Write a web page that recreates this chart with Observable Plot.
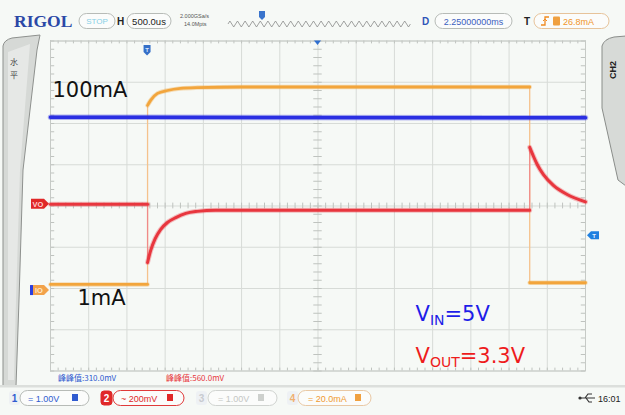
<!DOCTYPE html>
<html><head><meta charset="utf-8">
<script src="https://cdn.jsdelivr.net/npm/d3@7"></script>
<script src="https://cdn.jsdelivr.net/npm/@observablehq/plot@0.6"></script>
<style>
html,body{margin:0;padding:0;background:#f6f9f6;}
#chart{position:relative;width:625px;height:415px;overflow:hidden;}
svg{display:block;}
</style></head><body><div id="chart"></div>
<script>
// Horizontal: time in ms (500 us/div, 14 div). Vertical: screen divisions (8 div).
const xDivs = [0,0.5,1,1.5,2,2.5,3,3.5,4,4.5,5,5.5,6,6.5,7];
const yDivs = [-4,-3,-2,-1,0,1,2,3,4];
const minorX = d3.range(0, 71).map(i => +(i * 0.1).toFixed(2));
const minorY = d3.range(-20, 21).map(i => +(i * 0.2).toFixed(2));

// CH1 (blue) VIN
const ch1T = [0, 1.27, 6.27, 7];
const ch1V = [2.15, 2.15, 2.14, 2.14];

// CH4 (orange) load current
const ch4T_before = [0, 1.27];
const ch4V_before = [-1.90, -1.90];
const ch4T_high = [1.27, 1.31, 1.40, 1.53, 1.70, 1.92, 2.49, 6.27];
const ch4V_high = [2.44, 2.56, 2.73, 2.80, 2.85, 2.87, 2.885, 2.885];
const ch4T_after = [6.27, 7];
const ch4V_after = [-1.86, -1.86];

// CH2 (red) VOUT, AC coupled
const ch2T_before = [0, 1.27];
const ch2V_before = [0.04, 0.04];
const ch2T_load = [1.27, 1.31, 1.37, 1.44, 1.53, 1.64, 1.77, 1.92, 2.16, 6.27];
const ch2V_load = [-1.37, -1.08, -0.79, -0.57, -0.40, -0.28, -0.18, -0.13, -0.10, -0.10];
const ch2T_release = [6.27, 6.32, 6.37, 6.45, 6.58, 6.76, 7.0];
const ch2V_release = [1.42, 1.20, 1.00, 0.76, 0.50, 0.28, 0.10];

// fast edges
const edgeT = [1.27, 6.27];
const ch4EdgeFrom = [-1.90, 2.885];
const ch4EdgeTo = [2.44, -1.86];
const ch2EdgeFrom = [0.04, -0.10];
const ch2EdgeTo = [-1.37, 1.42];

const labels = ["100mA", "1mA"];
const vinLabel = "VIN=5V";
const voutLabel = "VOUT=3.3V";
const measLabels = ["峰峰值:310.0mV", "峰峰值:560.0mV"];

function rows(id, T, V) { return T.map((t, i) => ({id, t, v: V[i]})); }
const blue = rows("a", ch1T, ch1V);
const orange = [...rows("a", ch4T_before, ch4V_before), ...rows("b", ch4T_high, ch4V_high), ...rows("c", ch4T_after, ch4V_after)];
const red = [...rows("a", ch2T_before, ch2V_before), ...rows("b", ch2T_load, ch2V_load), ...rows("c", ch2T_release, ch2V_release)];
const orangeEdges = edgeT.map((t, i) => ({t, v1: ch4EdgeFrom[i], v2: ch4EdgeTo[i]}));
const redEdges = edgeT.map((t, i) => ({t, v1: ch2EdgeFrom[i], v2: ch2EdgeTo[i]}));

const BLUE = "#2a2fe2", RED = "#e8363e", ORANGE = "#f2a53c";
const GRID = "#d7dbd7", TICK = "#bfc3bf";

const plot = Plot.plot({
  width: 625, height: 415,
  marginLeft: 50, marginRight: 40, marginTop: 40.5, marginBottom: 44.5,
  x: {domain: [0, 7], axis: null},
  y: {domain: [-4, 4], axis: null},
  style: {background: "#f6f9f6", overflow: "visible"},
  marks: [
    Plot.ruleX(xDivs, {stroke: GRID, strokeWidth: 1}),
    Plot.ruleY(yDivs, {stroke: GRID, strokeWidth: 1}),
    Plot.ruleX(minorX, {x: d => d, y1: -0.07, y2: 0.07, stroke: TICK}),
    Plot.ruleY(minorY, {y: d => d, x1: 3.5 - 0.055, x2: 3.5 + 0.055, stroke: TICK}),
    Plot.ruleX(minorX, {x: d => d, y1: 4, y2: 3.93, stroke: TICK}),
    Plot.ruleX(minorX, {x: d => d, y1: -4, y2: -3.93, stroke: TICK}),
    Plot.ruleY(minorY, {y: d => d, x1: 0, x2: 0.055, stroke: TICK}),
    Plot.ruleY(minorY, {y: d => d, x1: 7, x2: 6.945, stroke: TICK}),
    Plot.frame({stroke: "#c6cac6"}),
    // traces
    Plot.ruleX(orangeEdges, {x: "t", y1: "v1", y2: "v2", stroke: "#f5c28c", strokeWidth: 1.3}),
    Plot.ruleX(redEdges, {x: "t", y1: "v1", y2: "v2", stroke: "#f08a8a", strokeWidth: 1.2}),
    Plot.line(orange, {x: "t", y: "v", z: "id", stroke: ORANGE, strokeWidth: 4.5, strokeOpacity: 0.35, curve: "monotone-x"}),
    Plot.line(orange, {x: "t", y: "v", z: "id", stroke: ORANGE, strokeWidth: 2.8, curve: "monotone-x"}),
    Plot.line(red, {x: "t", y: "v", z: "id", stroke: RED, strokeWidth: 5, strokeOpacity: 0.3, curve: "monotone-x"}),
    Plot.line(red, {x: "t", y: "v", z: "id", stroke: RED, strokeWidth: 3, curve: "monotone-x"}),
    Plot.line(blue, {x: "t", y: "v", z: "id", stroke: BLUE, strokeWidth: 5.5, strokeOpacity: 0.35}),
    Plot.line(blue, {x: "t", y: "v", z: "id", stroke: BLUE, strokeWidth: 3.6}),
    // annotations
    Plot.text([labels[0]], {x: 0.026, y: 2.81, text: d => d, textAnchor: "start", lineAnchor: "middle", fontSize: 21, fontFamily: "DejaVu Sans", fill: "#111"}),
    Plot.text([labels[1]], {x: 0.353, y: -2.23, text: d => d, textAnchor: "start", lineAnchor: "middle", fontSize: 21, fontFamily: "DejaVu Sans", fill: "#111"}),
    Plot.text([vinLabel], {x: 4.776, y: -2.62, text: d => d, textAnchor: "start", lineAnchor: "middle", fontSize: 21, fontFamily: "DejaVu Sans", fill: "#1d1de8"}),
    Plot.text([voutLabel], {x: 4.776, y: -3.64, text: d => d, textAnchor: "start", lineAnchor: "middle", fontSize: 21, fontFamily: "DejaVu Sans", fill: "#ee1c1c"})
  ]
});
document.getElementById("chart").appendChild(plot);

// subscripts
plot.querySelectorAll("text").forEach(el => {
  const s = el.textContent;
  let sub = null, rest = null;
  if (s === vinLabel) { sub = "IN"; rest = "=5V"; }
  if (s === voutLabel) { sub = "OUT"; rest = "=3.3V"; }
  if (sub) {
    el.textContent = "";
    const ns = "http://www.w3.org/2000/svg";
    const a = document.createElementNS(ns, "tspan"); a.textContent = "V"; el.appendChild(a);
    const b = document.createElementNS(ns, "tspan"); b.textContent = sub; b.setAttribute("font-size", "14"); b.setAttribute("dy", "4"); el.appendChild(b);
    const c = document.createElementNS(ns, "tspan"); c.textContent = rest; c.setAttribute("dy", "-4"); el.appendChild(c);
  }
});

// ---- oscilloscope chrome ----
const sx = plot.scale("x"), sy = plot.scale("y");
const X = v => sx.apply(v), Y = v => sy.apply(v);
const svg = d3.select(plot);
const g = svg.append("g").attr("font-family", "Liberation Sans, Arial, sans-serif").attr("text-anchor", "start");

function pill(x0, x1, yc, h, stroke, fill) {
  g.append("rect").attr("x", x0).attr("y", yc - h / 2).attr("width", x1 - x0).attr("height", h)
    .attr("rx", h / 2).attr("fill", fill || "#fbfcfb").attr("stroke", stroke || "#b7bbb7").attr("stroke-width", 1);
}
function txt(s, x0, yb, size, fill, opt) {
  opt = opt || {};
  const t = g.append("text").attr("x", x0).attr("y", yb).attr("font-size", size).attr("fill", fill).text(s)
    .attr("text-anchor", opt.anchor || "start");
  if (opt.weight) t.attr("font-weight", opt.weight);
  if (opt.family) t.attr("font-family", opt.family);
  if (opt.rotate) t.attr("transform", opt.rotate);
  return t;
}

// side tabs
g.append("path").attr("d", "M3,46 Q4,40 12,38 L40,35 L37,50 L23,170 L19,300 L16,386 L3,386 Z")
  .attr("fill", "#d6d9d6").attr("stroke", "#8e918e").attr("stroke-width", 1);
g.append("path").attr("d", "M8,52 L30,44 L20,170 L16,300 L14,380 L8,380 Z").attr("fill", "#e6e8e6");
txt("水", 14, 65, 8, "#444", {anchor: "middle", family: "Noto Sans CJK SC"});
txt("平", 14, 78, 8, "#444", {anchor: "middle", family: "Noto Sans CJK SC"});
g.append("path").attr("d", "M602,46 Q604,39 614,37 L626,36 L626,186 L618,180 L602,108 Z")
  .attr("fill", "#d7dad7").attr("stroke", "#8a8d8a").attr("stroke-width", 1);
txt("CH2", 0, 0, 9, "#222", {anchor: "middle", weight: "bold", rotate: "translate(616,70) rotate(-90)"});

// top bar
txt("RIGOL", 14, 27, 17.5, "#2b48a6", {weight: "bold", family: "Liberation Serif, serif"});
pill(79, 115, 21, 15);
txt("STOP", 97, 24, 8, "#86cfe6", {anchor: "middle"});
txt("H", 117, 25, 10, "#222", {weight: "bold"});
pill(127, 171, 21, 15);
txt("500.0us", 149, 24.5, 9.5, "#222", {anchor: "middle"});
txt("2.000GSa/s", 180, 18, 5.5, "#555");
txt("14.0Mpts", 184, 25.5, 5.5, "#555");
{
  let d = "M228,24";
  for (let i = 0; i < 24; i++) { const x0 = 228 + i * 7.6; d += ` L${x0 + 1.9},21 L${x0 + 5.7},27 L${x0 + 7.6},24`; }
  g.append("path").attr("d", d).attr("fill", "none").attr("stroke", "#8a8c8a").attr("stroke-width", 0.8);
}
g.append("path").attr("d", "M259,11 L265,11 L265,17 L262,20 L259,17 Z").attr("fill", "#3a74cc");
txt("D", 422, 25, 10, "#2f55b8", {weight: "bold"});
pill(435, 512, 21, 15);
txt("2.25000000ms", 473.5, 24.5, 9, "#3a60c0", {anchor: "middle"});
txt("T", 524, 25, 10, "#222", {weight: "bold"});
pill(534, 609, 21, 15, "#e7c39a");
g.append("path").attr("d", "M541,25 L545,25 L545,17 L549,17").attr("fill", "none").attr("stroke", "#f08a20").attr("stroke-width", 1.3);
g.append("path").attr("d", "M543,21 L545,19 L547,21").attr("fill", "none").attr("stroke", "#f08a20").attr("stroke-width", 1);
g.append("rect").attr("x", 553).attr("y", 16.5).attr("width", 7).attr("height", 9).attr("rx", 1).attr("fill", "#f0a040");
txt("26.8mA", 563, 24.5, 9, "#f0952a");

// trace markers
g.append("path").attr("d", `M${X(1.27) - 3.5},45 L${X(1.27) + 3.5},45 L${X(1.27) + 3.5},52 L${X(1.27)},55.5 L${X(1.27) - 3.5},52 Z`).attr("fill", "#3570c8");
txt("T", X(1.27), 52, 6, "#dce8ff", {anchor: "middle", weight: "bold"});
g.append("path").attr("d", `M${X(3.5) - 3.5},40.5 L${X(3.5) + 3.5},40.5 L${X(3.5)},45 Z`).attr("fill", "#2f6fd0");
const vo = Y(ch2V_before[0]);
g.append("path").attr("d", `M31,${vo - 5} L44,${vo - 5} L49,${vo} L44,${vo + 5} L31,${vo + 5} Z`).attr("fill", "#e02828");
txt("VO", 38, vo + 3, 7.5, "#ffd0d0", {anchor: "middle", weight: "bold"});
const io = Y(-2.05);
g.append("path").attr("d", `M31,${io - 5} L44,${io - 5} L49,${io} L44,${io + 5} L31,${io + 5} Z`).attr("fill", "#f2a24a");
g.append("rect").attr("x", 30).attr("y", io - 5).attr("width", 3).attr("height", 10).attr("fill", "#2a3ee0");
txt("IO", 39, io + 3, 7.5, "#ffe7c8", {anchor: "middle", weight: "bold"});
const tl = Y(-0.72);
g.append("path").attr("d", `M587,${tl} L591,${tl - 4} L599,${tl - 4} L599,${tl + 4} L591,${tl + 4} Z`).attr("fill", "#1f80e0");
txt("T", 594, tl + 2.5, 6, "#e6f2ff", {anchor: "middle", weight: "bold"});

// measurements
txt(measLabels[0], 58, 381, 8, "#2f5bd0", {family: "Noto Sans CJK SC"});
txt(measLabels[1], 166, 381, 8, "#e8383e", {family: "Noto Sans CJK SC"});

// bottom bar
g.append("rect").attr("x", 0).attr("y", 385).attr("width", 625).attr("height", 2.5).attr("fill", "#dcdfdc");
function badge(x0, label, color, textFill, filled) {
  g.append("rect").attr("x", x0).attr("y", 391).attr("width", 11).attr("height", 14).attr("rx", 3)
    .attr("fill", filled ? color : "#eef1f4").attr("stroke", filled ? color : "none");
  txt(label, x0 + 5.5, 402, 10, textFill, {anchor: "middle", weight: "bold"});
}
badge(9, "1", "#2f5bd0", "#2f5bd0", false);
pill(20, 89, 398, 15);
txt("= 1.00V", 28, 401.5, 9, "#2f5bd0");
g.append("rect").attr("x", 72).attr("y", 394).attr("width", 6).attr("height", 7).attr("fill", "#2f5bd0");
badge(101, "2", "#e02828", "#fff", true);
pill(113, 184, 398, 15, "#e03a3a");
txt("~ 200mV", 121, 401.5, 9, "#e02828");
g.append("rect").attr("x", 167).attr("y", 394).attr("width", 6).attr("height", 7).attr("fill", "#e02828");
badge(196, "3", "#c8cbd0", "#c8cbd0", false);
pill(208, 277, 398, 15, "#d0d3d0");
txt("= 1.00V", 218, 401.5, 9, "#c4c7c4");
g.append("rect").attr("x", 258).attr("y", 394).attr("width", 6).attr("height", 7).attr("fill", "#cdd0cd");
badge(287, "4", "#f0b070", "#f0b070", false);
pill(298, 371, 398, 15, "#e9c8a4");
txt("= 20.0mA", 308, 401.5, 9, "#f09a30");
g.append("rect").attr("x", 355).attr("y", 394).attr("width", 6).attr("height", 7).attr("fill", "#f0a040");
// usb icon + clock
g.append("path").attr("d", "M580,398 L595,398 M585,398 L588,394 L592,394 M586,398 L589,402 L592,402").attr("fill", "none").attr("stroke", "#333").attr("stroke-width", 1.2);
g.append("circle").attr("cx", 580).attr("cy", 398).attr("r", 1.6).attr("fill", "#333");
txt("16:01", 598, 401.5, 9, "#222");
</script></body></html>
